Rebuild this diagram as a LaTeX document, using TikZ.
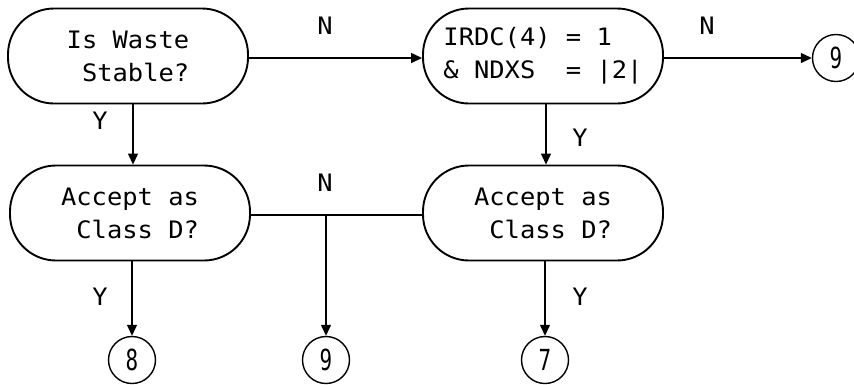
\documentclass[tikz,border=0pt]{standalone}
\usepackage{fontspec}
\newfontfamily\mono[FakeStretch=1.06]{DejaVu Sans Mono}
\newfontfamily\digitfont[FakeStretch=0.72]{DejaVu Sans Mono}
\usetikzlibrary{arrows.meta}
\begin{document}
\begin{tikzpicture}[x=1pt,y=-1pt,
  dec/.style={draw, line width=1.9pt, rounded corners=46pt, minimum width=240pt, minimum height=95pt,
    font=\mono\fontsize{24}{33}\selectfont, align=left, inner sep=0pt},
  conn/.style={draw, circle, line width=1.4pt, minimum size=47pt, inner sep=0pt,
    font=\digitfont\fontsize{29}{29}\selectfont},
  arr/.style={line width=1.3pt, -{Triangle[length=11pt,width=10pt]}},
  lbl/.style={font=\mono\fontsize{24}{26}\selectfont, inner sep=0pt}]
\useasboundingbox (0,0) rectangle (854,384);
\node[dec] (A) at (128,56) {Is Waste\\\ Stable?};
\node[dec] (B) at (543,56) {IRDC(4) = 1\\\&\ NDXS\ \ =\ |2|};
\node[dec] (C) at (130,213) {Accept as\\\ Class D?};
\node[dec] (D) at (543,213) {Accept as\\\ Class D?};
\node[conn] (n9a) at (836,58) {9};
\node[conn] (n8) at (132,360) {8};
\node[conn] (n9b) at (326,360) {9};
\node[conn] (n7) at (545,360) {7};
\coordinate (j) at (326,215);
\draw[arr] (A.east |- 0,58) -- (B.west |- 0,58);
\draw[arr] (B.east |- 0,58) -- (n9a);
\draw[arr] (A.south -| 133,0) -- (C.north -| 133,0);
\draw[arr] (B.south -| 546,0) -- (D.north -| 546,0);
\draw[line width=1.3pt] (C.east |- j) -- (D.west |- j);
\draw[arr] (j) -- (n9b);
\draw[arr] (C.south -| 132,0) -- (n8);
\draw[arr] (D.south -| 545,0) -- (n7);
\node[lbl] (l1) at (325,26) {N};
\node[lbl] (l2) at (100,121) {Y};
\node[lbl] (l3) at (325,183) {N};
\node[lbl] (l4) at (707,26) {N};
\node[lbl] (l5) at (580,138) {Y};
\node[lbl] (l6) at (100,297) {Y};
\node[lbl] (l7) at (580,297) {Y};
\end{tikzpicture}
\end{document}
